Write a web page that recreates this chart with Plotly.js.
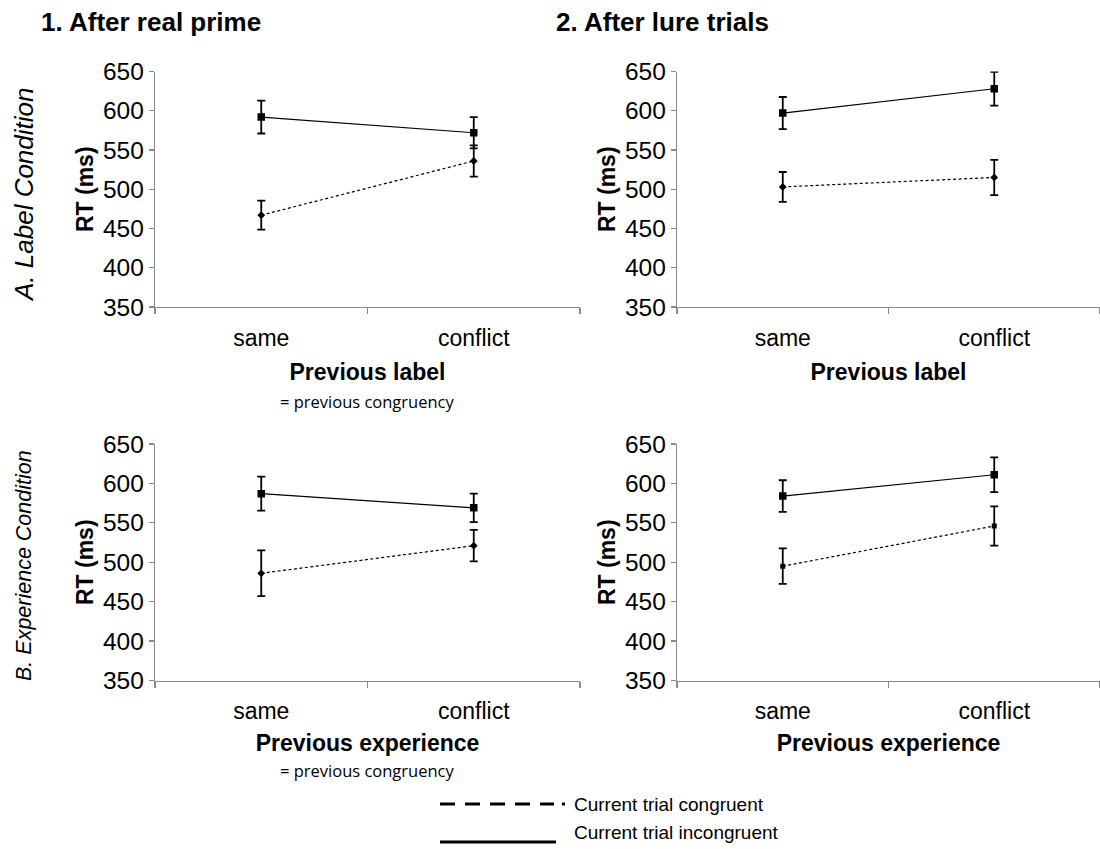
<!DOCTYPE html>
<html>
<head>
<meta charset="utf-8">
<script src="https://cdn.plot.ly/plotly-3.0.1.min.js"></script>
<style>html,body{margin:0;padding:0;background:#fff;}#chart{width:1100px;height:849px;}</style>
</head>
<body>
<div id="chart"></div>
<script>
// ---- data ----
const categories = ['same', 'conflict'];
const panelNames = ['A1', 'A2', 'B1', 'B2'];
const columnTitles = ['1. After real prime', '2. After lure trials'];
const rowTitles = ['A. Label Condition', 'B. Experience Condition'];
const xTitles = ['Previous label', 'Previous label', 'Previous experience', 'Previous experience'];
const xSubTitles = ['= previous congruency', '', '= previous congruency', ''];
const yTitle = 'RT (ms)';
const yTicks = [350, 400, 450, 500, 550, 600, 650];
const seriesNames = ['Current trial congruent', 'Current trial incongruent'];

// incongruent (solid) means and error half-widths per panel
const incongruentA1 = [592, 572];
const incongruentA2 = [597, 628];
const incongruentB1 = [587, 569];
const incongruentB2 = [584, 611];
const incongruentErrA1 = [21, 20];
const incongruentErrA2 = [20.5, 21.5];
const incongruentErrB1 = [21.5, 18];
const incongruentErrB2 = [20, 22];

// congruent (dashed) means and error half-widths per panel
const congruentA1 = [467, 536];
const congruentA2 = [503, 515];
const congruentB1 = [486, 521];
const congruentB2 = [495, 546];
const congruentErrA1 = [18.5, 20];
const congruentErrA2 = [19, 22.5];
const congruentErrB1 = [29, 20];
const congruentErrB2 = [22.5, 25];

const incongruent = [incongruentA1, incongruentA2, incongruentB1, incongruentB2];
const incongruentErr = [incongruentErrA1, incongruentErrA2, incongruentErrB1, incongruentErrB2];
const congruent = [congruentA1, congruentA2, congruentB1, congruentB2];
const congruentErr = [congruentErrA1, congruentErrA2, congruentErrB1, congruentErrB2];

// ---- layout ----
const W = 1100, H = 849;
const FONT = 'Liberation Sans, Arial, Helvetica, sans-serif';
const px = v => v / W;
const py = v => 1 - v / H;

const xDomains = [[px(155), px(580)], [px(677), 1.0], [px(155), px(580)], [px(677), 1.0]];
const yDomains = [[py(307), py(71.5)], [py(307), py(71.5)], [py(680.5), py(444)], [py(680.5), py(444)]];
const titleStandoff = [14, 14, 11, 11];
const subTitleY = [401, 0, 770, 0];

const traces = [];
const layout = {
  width: W, height: H,
  margin: {l: 0, r: 0, t: 0, b: 0},
  paper_bgcolor: '#fff', plot_bgcolor: '#fff',
  showlegend: false,
  font: {family: FONT, color: '#000'},
  annotations: [],
  shapes: []
};

for (let i = 0; i < 4; i++) {
  const xa = i === 0 ? 'x' : 'x' + (i + 1);
  const ya = i === 0 ? 'y' : 'y' + (i + 1);
  traces.push({
    type: 'scatter', mode: 'lines+markers', name: seriesNames[0],
    x: categories, y: congruent[i], xaxis: xa, yaxis: ya,
    line: {color: '#000', width: 1.2, dash: '3px,2.5px'},
    marker: {symbol: i === 3 ? 'square' : 'diamond', size: i === 3 ? 5 : 6, color: '#000'},
    error_y: {type: 'data', array: congruentErr[i], visible: true, color: '#000', thickness: 1.8, width: 4}
  });
  traces.push({
    type: 'scatter', mode: 'lines+markers', name: seriesNames[1],
    x: categories, y: incongruent[i], xaxis: xa, yaxis: ya,
    line: {color: '#000', width: 1.2},
    marker: {symbol: 'square', size: 7.5, color: '#000'},
    error_y: {type: 'data', array: incongruentErr[i], visible: true, color: '#000', thickness: 1.8, width: 4}
  });
  const xk = i === 0 ? 'xaxis' : 'xaxis' + (i + 1);
  const yk = i === 0 ? 'yaxis' : 'yaxis' + (i + 1);
  layout[xk] = {
    domain: xDomains[i], anchor: ya, type: 'category',
    categoryorder: 'array', categoryarray: categories,
    range: [-0.5, 1.5], fixedrange: true,
    showgrid: false, zeroline: false,
    showline: true, linecolor: '#8a8a8a', linewidth: 1.3,
    ticks: 'outside', tickson: 'boundaries', ticklen: 6, tickcolor: '#8a8a8a', tickwidth: 1.3,
    tickfont: {family: FONT, size: 23, color: '#000'},
    ticklabelstandoff: 10,
    title: {text: '<b>' + xTitles[i] + '</b>', font: {family: FONT, size: 23, color: '#000'}, standoff: titleStandoff[i]}
  };
  layout[yk] = {
    domain: yDomains[i], anchor: xa,
    range: [350, 650], fixedrange: true,
    tickvals: yTicks, ticktext: yTicks.map(String),
    showgrid: false, zeroline: false,
    showline: true, linecolor: '#8a8a8a', linewidth: 1.3,
    ticks: 'outside', ticklen: 5, tickcolor: '#8a8a8a', tickwidth: 1.3,
    tickfont: {family: FONT, size: 24.5, color: '#000'},
    title: {text: '<b>' + yTitle + '</b>', font: {family: FONT, size: 23, color: '#000'}, standoff: 3}
  };
  if (xSubTitles[i]) {
    layout.annotations.push({
      xref: 'paper', yref: 'paper',
      x: (xDomains[i][0] + xDomains[i][1]) / 2, y: py(subTitleY[i]),
      text: xSubTitles[i], showarrow: false, xanchor: 'center', yanchor: 'middle',
      font: {family: 'Open Sans, Noto Sans, sans-serif', size: 16.5, color: '#000'}
    });
  }
}

// column titles
layout.annotations.push({xref: 'paper', yref: 'paper', x: px(39), y: py(22), xanchor: 'left', yanchor: 'middle',
  text: '<b>' + columnTitles[0] + '</b>', showarrow: false, font: {family: FONT, size: 26, color: '#000'}});
layout.annotations.push({xref: 'paper', yref: 'paper', x: px(554), y: py(22), xanchor: 'left', yanchor: 'middle',
  text: '<b>' + columnTitles[1] + '</b>', showarrow: false, font: {family: FONT, size: 26, color: '#000'}});
// row titles
layout.annotations.push({xref: 'paper', yref: 'paper', x: px(24), y: py(195), xanchor: 'center', yanchor: 'middle',
  textangle: -90, text: '<i>' + rowTitles[0] + '</i>', showarrow: false, font: {family: FONT, size: 26, color: '#000'}});
layout.annotations.push({xref: 'paper', yref: 'paper', x: px(24), y: py(566), xanchor: 'center', yanchor: 'middle',
  textangle: -90, text: '<i>' + rowTitles[1] + '</i>', showarrow: false, font: {family: FONT, size: 21.5, color: '#000'}});

// legend key
layout.shapes.push({type: 'line', xref: 'paper', yref: 'paper', x0: px(440), x1: px(566), y0: py(804), y1: py(804),
  line: {color: '#000', width: 3, dash: '15px,10px,15px,10px,15px,10px,15px,10px,14px,8px,3px,100px'}});
layout.shapes.push({type: 'line', xref: 'paper', yref: 'paper', x0: px(440), x1: px(556), y0: py(842), y1: py(842),
  line: {color: '#000', width: 3}});
layout.annotations.push({xref: 'paper', yref: 'paper', x: px(572), y: py(804), xanchor: 'left', yanchor: 'middle',
  text: seriesNames[0], showarrow: false, font: {family: FONT, size: 19, color: '#000'}});
layout.annotations.push({xref: 'paper', yref: 'paper', x: px(572), y: py(832), xanchor: 'left', yanchor: 'middle',
  text: seriesNames[1], showarrow: false, font: {family: FONT, size: 19, color: '#000'}});

Plotly.newPlot('chart', traces, layout, {staticPlot: true, displayModeBar: false});
</script>
</body>
</html>
